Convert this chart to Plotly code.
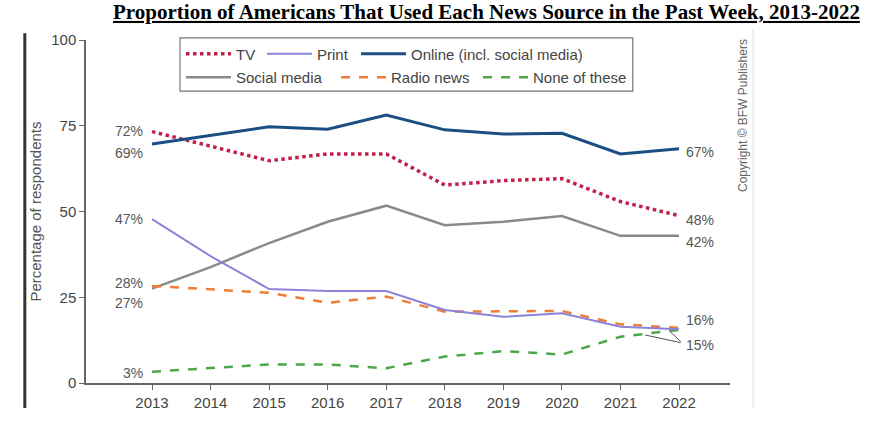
import plotly.graph_objects as go

years = [2013, 2014, 2015, 2016, 2017, 2018, 2019, 2020, 2021, 2022]

tv = [73.3, 69.0, 64.8, 66.8, 66.8, 57.7, 59.0, 59.6, 52.9, 48.8]
printed = [47.8, 37.0, 27.4, 26.8, 26.8, 21.3, 19.3, 20.3, 16.4, 15.7]
online = [69.7, 72.3, 74.7, 74.0, 78.1, 73.8, 72.6, 72.8, 66.8, 68.3]
social = [27.5, 33.8, 40.8, 47.0, 51.7, 46.0, 47.0, 48.7, 42.9, 42.9]
radio = [28.3, 27.4, 26.3, 23.4, 25.2, 20.8, 21.0, 21.0, 17.1, 16.1]
none = [3.3, 4.4, 5.4, 5.4, 4.3, 7.7, 9.3, 8.3, 13.5, 15.5]

# (text, y position) for the end labels
left_labels = [("72%", 73.5), ("69%", 67.0), ("47%", 47.8), ("28%", 29.2), ("27%", 23.3), ("3%", 2.9)]
right_labels = [("67%", 67.4), ("48%", 47.5), ("42%", 41.2), ("16%", 18.4)]

grey_txt = "#555555"
font_family = "Liberation Sans, Arial, sans-serif"

fig = go.Figure()

# name, values, line style, legend id, legend x (paper), legend y (paper)
series = [
    ("Social media", social, dict(color="#8a8a8a", width=2.5), "legend4", 0.1475, 0.891),
    ("Radio news", radio, dict(color="#ee7d35", width=2.5, dash="dash"), "legend5", 0.3882, 0.891),
    ("None of these", none, dict(color="#4ca64a", width=2.5, dash="dash"), "legend6", 0.6087, 0.891),
    ("TV", tv, dict(color="#c0204a", width=3.5, dash="dot"), "legend", 0.1475, 0.959),
    ("Print", printed, dict(color="#8c82d8", width=2), "legend2", 0.2733, 0.959),
    ("Online (incl. social media)", online, dict(color="#1b4f83", width=3), "legend3", 0.4193, 0.959),
]

leg_common = dict(orientation="h", xanchor="left", yanchor="middle", bgcolor="rgba(0,0,0,0)",
                  borderwidth=0, font=dict(size=15, color="#444444", family=font_family),
                  itemwidth=45)
legends = {}
for name, vals, line, leg, lx, ly in series:
    fig.add_trace(go.Scatter(x=years, y=vals, mode="lines", name=name, line=line, legend=leg,
                             showlegend=True))
    legends[leg] = dict(x=lx, y=ly, **leg_common)

for txt, yv in left_labels:
    fig.add_annotation(x=years[0], y=yv, text=txt, showarrow=False, xanchor="right", xshift=-7,
                       font=dict(size=14, color=grey_txt, family=font_family))
for txt, yv in right_labels:
    fig.add_annotation(x=years[-1], y=yv, text=txt, showarrow=False, xanchor="left", xshift=5,
                       font=dict(size=14, color=grey_txt, family=font_family))

# 15% label with two pointer lines
fig.add_annotation(x=2021.85, y=14.9, ax=12, ay=11, text="", showarrow=True,
                   arrowhead=0, arrowwidth=1, arrowcolor="#555555")
fig.add_annotation(x=2021.42, y=14.0, ax=37, ay=8, text="", showarrow=True,
                   arrowhead=0, arrowwidth=1, arrowcolor="#555555")
fig.add_annotation(x=years[-1], y=11.1, text="15%", showarrow=False, xanchor="left", xshift=5,
                   font=dict(size=14, color=grey_txt, family=font_family))

# y axis title
fig.add_annotation(xref="paper", yref="paper", x=-0.079, y=0.50, xanchor="center", yanchor="middle",
                   text="Percentage of respondents", textangle=-90, showarrow=False,
                   font=dict(size=15, color=grey_txt, family=font_family))

# copyright note
fig.add_annotation(xref="paper", yref="paper", x=1.020, y=0.781, xanchor="center", yanchor="middle",
                   text="Copyright © BFW Publishers", textangle=-90, showarrow=False,
                   font=dict(size=12, color="#666666", family=font_family))

# legend box
fig.add_shape(type="rect", xref="paper", yref="paper", x0=0.146, x1=0.849, y0=0.851, y1=1.006,
              line=dict(color="#777777", width=1.2), fillcolor="white", layer="below")
# frame lines of the original figure
fig.add_shape(type="line", xref="paper", yref="paper", x0=-0.095, x1=-0.095, y0=-0.073, y1=1.02,
              line=dict(color="#333333", width=3))
fig.add_shape(type="line", xref="paper", yref="paper", x0=1.036, x1=1.036, y0=-0.07, y1=1.03,
              line=dict(color="#dddddd", width=1))

fig.update_layout(
    width=890,
    height=422,
    margin=dict(l=86, r=160, t=40, b=39),
    paper_bgcolor="white",
    plot_bgcolor="white",
    showlegend=True,
    title=dict(text="<b><u>Proportion of Americans That Used Each News Source in the Past Week, 2013-2022</u></b>",
               x=0.5466, xanchor="center", y=0.99, yanchor="top",
               font=dict(family="Liberation Serif, Times New Roman, serif", size=21, color="black")),
    xaxis=dict(range=[2011.873, 2022.87], tickvals=years, ticks="outside", ticklen=5, tickcolor="#666666",
               showline=True, linecolor="#666666", linewidth=1.5, showgrid=False, zeroline=False,
               tickfont=dict(size=15, color="#444444", family=font_family)),
    yaxis=dict(range=[0, 100], tickvals=[0, 25, 50, 75, 100], ticks="outside", ticklen=5, tickcolor="#666666",
               showline=True, linecolor="#666666", linewidth=1.5, showgrid=False, zeroline=False,
               tickfont=dict(size=15, color="#444444", family=font_family)),
    **legends,
)

# drop the default page margin so the figure sits at the window's corner
fig.write_html("out.html", config={"displayModeBar": False},
               post_script="document.body.style.margin='0';")
